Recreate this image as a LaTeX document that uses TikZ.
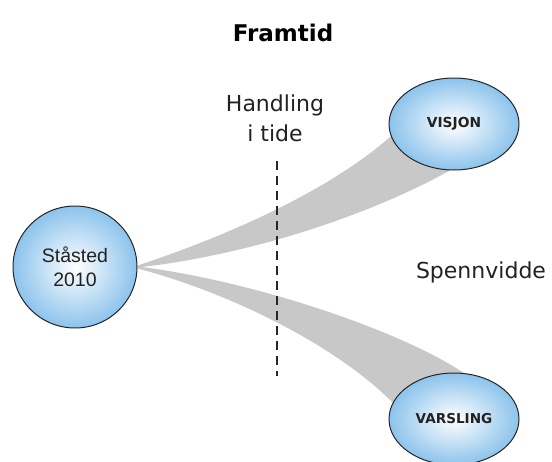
\documentclass[tikz,border=0pt]{standalone}
\usepackage{fontspec}
\setmainfont{DejaVu Sans}
\newfontfamily\arialfont{Liberation Sans}
\usetikzlibrary{shapes.geometric,backgrounds}
\definecolor{skyb}{RGB}{140,195,236}
\definecolor{wedgegray}{RGB}{200,200,200}
\definecolor{txt}{RGB}{34,34,34}
\begin{document}
\begin{tikzpicture}[x=1pt,y=-1pt,
  bubble/.style={ellipse, draw=black!85, line width=1pt, shading=radial,
    inner color=white, outer color=skyb, inner sep=0pt, text=txt},
  wedge/.style={fill=wedgegray, draw=none},
  lbl/.style={font=\fontsize{22}{30}\selectfont, text=txt, align=center},
  dashline/.style={draw=black!85, line width=1.5pt, dash pattern=on 9pt off 6pt}
]
\useasboundingbox (0,0) rectangle (552,461);

% nodes
\node[bubble, minimum width=124pt, minimum height=122pt,
  font=\arialfont\fontsize{19.5}{24}\selectfont, align=center] (st) at (75,267) {Ståsted\\2010};
\node[bubble, minimum width=130pt, minimum height=92pt,
  font=\bfseries\fontsize{13.8}{16}\selectfont] (vis) at (454,124) {VISJON};
\node[bubble, minimum width=130pt, minimum height=92pt,
  font=\bfseries\fontsize{13.6}{16}\selectfont] (var) at (454,419) {VARSLING};

\node[font=\bfseries\fontsize{23}{27}\selectfont, text=black] (fram) at (283,33) {Framtid};
\node[lbl] (hand) at (275,118) {Handling\\i tide};
\node[lbl] (spenn) at (481,272) {Spennvidde};

% wedges
\begin{scope}[on background layer]
  \fill[wedgegray] ([yshift=1.5pt]st.east)
    .. controls (230,235) and (330,190) .. (vis.191)
    -- (vis.265)
    .. controls (370,215) and (250,255) .. ([yshift=-0.5pt]st.east) -- cycle;
  \fill[wedgegray] ([yshift=0.5pt]st.east)
    .. controls (250,280) and (400,330) .. (var.78)
    -- (var.165)
    .. controls (330,340) and (220,290) .. ([yshift=-1.5pt]st.east) -- cycle;
\end{scope}

% dashed line
\coordinate (dtop) at (277,161);
\coordinate (dbot) at (277,376);
\draw[dashline] (dtop) -- (dbot);
\end{tikzpicture}
\end{document}
